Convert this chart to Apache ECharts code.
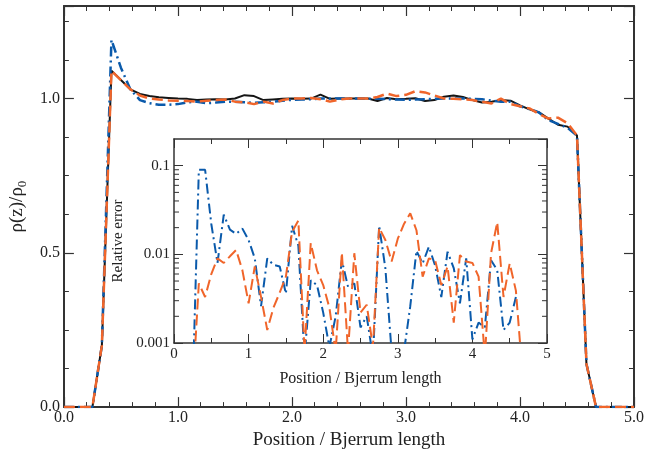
<!DOCTYPE html>
<html>
<head>
<meta charset="utf-8">
<script src="https://cdn.jsdelivr.net/npm/echarts@6/dist/echarts.min.js"></script>
<style>
html,body{margin:0;padding:0;background:#fff;}
#c{width:647px;height:455px;}
</style>
</head>
<body>
<div id="c"></div>
<script>
// Positions (Bjerrum lengths), grid step 1/12
const xs = [0,0.083,0.167,0.25,0.333,0.417,0.5,0.583,0.667,0.75,0.833,0.917,1.0,1.083,1.167,1.25,1.333,1.417,1.5,1.583,1.667,1.75,1.833,1.917,2.0,2.083,2.167,2.25,2.333,2.417,2.5,2.583,2.667,2.75,2.833,2.917,3.0,3.083,3.167,3.25,3.333,3.417,3.5,3.583,3.667,3.75,3.833,3.917,4.0,4.083,4.167,4.25,4.333,4.417,4.5,4.583,4.667,4.75,4.833,4.917,5.0];

const densBlack = [0,0,0,0,0.2,1.09,1.06,1.03,1.015,1.008,1.004,1.002,1.0,0.999,0.995,0.997,0.998,0.997,1.0,1.011,1.008,0.995,0.997,0.999,1.0,0.999,1.0,1.013,0.999,1.0,1.0,1.0,1.0,0.992,1.002,0.998,0.999,1.001,0.992,0.995,1.006,1.01,1.005,0.995,0.987,0.99,0.995,0.993,0.978,0.965,0.955,0.935,0.915,0.909,0.88,0.14,0,0,0,0,0];

const densBlue = [0,0,0,0,0.2,1.19,1.1,1.03,0.995,0.985,0.98,0.98,0.982,0.988,0.99,0.985,0.987,0.99,0.99,0.988,0.986,0.988,0.99,0.993,0.996,0.997,0.998,1.0,1.0,1.0,1.0,1.0,0.999,0.999,0.998,0.997,0.996,0.997,0.998,0.999,1.0,1.0,1.0,0.999,0.998,0.993,0.99,0.99,0.975,0.966,0.955,0.93,0.918,0.905,0.88,0.14,0,0,0,0,0];

const densOrange = [0,0,0,0,0.2,1.09,1.06,1.03,1.01,1.0,0.997,0.994,0.993,0.992,0.99,0.993,0.995,0.997,0.99,0.988,0.982,0.99,0.984,0.995,1.0,1.0,1.002,0.998,0.99,0.997,1.0,1.0,1.0,1.005,1.016,1.008,1.012,1.024,1.02,1.01,1.0,0.999,0.998,0.995,0.99,0.984,1.0,0.982,0.975,0.968,0.95,0.935,0.938,0.92,0.88,0.14,0,0,0,0,0];

// Inset: relative error (positions 0.25 .. 4.667)
const errXs = [0.25,0.333,0.417,0.5,0.583,0.667,0.75,0.833,0.917,1.0,1.083,1.167,1.25,1.333,1.417,1.5,1.583,1.667,1.75,1.833,1.917,2.0,2.083,2.167,2.25,2.333,2.417,2.5,2.583,2.667,2.75,2.833,2.917,3.0,3.083,3.167,3.25,3.333,3.417,3.5,3.583,3.667,3.75,3.833,3.917,4.0,4.083,4.167,4.25,4.333,4.417,4.5,4.583,4.667];

const errBlue = [0.0003,0.09,0.09,0.022,0.008,0.028,0.019,0.017,0.0195,0.0145,0.009,0.0026,0.009,0.0076,0.0073,0.0036,0.021,0.0125,0.0007,0.0051,0.0045,0.0022,0.0009,0.002,0.0086,0.0043,0.0047,0.0015,0.002,0.0007,0.021,0.007,0.0008,0.0005,0.0008,0.0026,0.011,0.0079,0.0122,0.0075,0.0033,0.0107,0.007,0.0028,0.009,0.0011,0.0017,0.0015,0.0086,0.0066,0.0014,0.0017,0.0033,null];

const errOrange = [0.0003,0.0047,0.0033,0.006,0.009,0.008,0.0095,0.0112,0.0066,0.0028,0.0073,0.0033,0.0014,0.0025,0.0037,0.0056,0.018,0.024,0.0008,0.0134,0.0066,0.0045,0.0025,0.0008,0.0105,0.0008,0.0103,0.0022,0.0027,0.0009,0.02,0.0145,0.0083,0.015,0.022,0.029,0.0187,0.0056,0.009,0.0086,0.0045,0.0073,0.0017,0.0098,0.0083,0.008,0.0056,0.0007,0.0103,0.023,0.0033,0.0079,0.0039,0.0005];

// log minor tick positions for inset
const logMinorTicks = [0.002,0.003,0.004,0.005,0.006,0.007,0.008,0.009,0.02,0.03,0.04,0.05,0.06,0.07,0.08,0.09];

const BLACK = '#151515', BLUE = '#0a5aab', ORANGE = '#f0652a', AX = '#333333';
const FONT = 'Liberation Serif';

function pairs(x, y){ return x.map((v,i)=>[v, y[i]]); }

const chart = echarts.init(document.getElementById('c'), null, {renderer:'canvas'});

function mainX(pos, show){
  return {
    type:'value', gridIndex:0, position:pos, min:0, max:5, interval:1,
    axisLine:{show:true, onZero:false, lineStyle:{color:AX, width:2}},
    axisTick:{show:true, inside:true, length:10, lineStyle:{color:AX, width:1.2}},
    minorTick:{show:true, splitNumber:5, length:5, lineStyle:{color:AX, width:1}},
    splitLine:{show:false},
    axisLabel:{show:show, margin:3, color:'#222', fontFamily:FONT, fontSize:16, formatter:v=>v.toFixed(1)},
    name: show ? 'Position / Bjerrum length' : '', nameLocation:'middle', nameGap:20,
    nameTextStyle:{color:'#222', fontFamily:FONT, fontSize:19}
  };
}
function mainY(pos, show){
  return {
    type:'value', gridIndex:0, position:pos, min:0, max:1.3, interval:0.5,
    axisLine:{show:true, onZero:false, lineStyle:{color:AX, width:2}},
    axisTick:{show:true, inside:true, length:10, lineStyle:{color:AX, width:1.2}},
    minorTick:{show:true, splitNumber:4, length:5, lineStyle:{color:AX, width:1}},
    splitLine:{show:false},
    axisLabel:{show:show, margin:4, color:'#222', fontFamily:FONT, fontSize:16, showMaxLabel:false, formatter:v=>v.toFixed(1)},
    name: show ? '{a|ρ(z)/ρ}{b|0}' : '', nameLocation:'middle', nameGap:27,
    nameTextStyle:{color:'#222', fontFamily:FONT, rich:{
      a:{fontSize:19, fontFamily:FONT, color:'#222'},
      b:{fontSize:13, fontFamily:FONT, color:'#222', padding:[10,0,0,0]}
    }}
  };
}
function insetX(pos, show){
  return {
    type:'value', gridIndex:1, position:pos, min:0, max:5, interval:1,
    axisLine:{show:true, onZero:false, lineStyle:{color:AX, width:1.5}},
    axisTick:{show:true, inside:true, length:9, lineStyle:{color:AX, width:1}},
    minorTick:{show:true, splitNumber:2, length:5, lineStyle:{color:AX, width:1}},
    splitLine:{show:false},
    axisLabel:{show:show, margin:4, color:'#222', fontFamily:FONT, fontSize:15},
    name: show ? 'Position / Bjerrum length' : '', nameLocation:'middle', nameGap:28,
    nameTextStyle:{color:'#222', fontFamily:FONT, fontSize:16}
  };
}
function insetY(pos, show){
  return {
    type:'log', logBase:10, gridIndex:1, position:pos, min:0.001, max:0.2,
    axisLine:{show:true, onZero:false, lineStyle:{color:AX, width:1.5}},
    axisTick:{show:true, inside:true, length:9, lineStyle:{color:AX, width:1}},
    minorTick:{show:false},
    splitLine:{show:false},
    axisLabel:{show:show, margin:4, color:'#222', fontFamily:FONT, fontSize:15, showMaxLabel:false,
      formatter:v=>String(+v.toPrecision(3))},
    name: show ? 'Relative error' : '', nameLocation:'middle', nameGap:42,
    nameTextStyle:{color:'#222', fontFamily:FONT, fontSize:15}
  };
}

const option = {
  animation:false,
  backgroundColor:'#fff',
  grid:[
    {left:61, right:11, top:6, bottom:45, containLabel:false},
    {left:174, right:100, top:139, bottom:112, containLabel:false, show:true, backgroundColor:'#fff', borderWidth:0}
  ],
  xAxis:[mainX('bottom',true), mainX('top',false), insetX('bottom',true), insetX('top',false)],
  yAxis:[mainY('left',true), mainY('right',false), insetY('left',true), insetY('right',false)],
  series:[
    {type:'line', xAxisIndex:0, yAxisIndex:0, data:pairs(xs,densBlack), symbol:'none', z:3,
      lineStyle:{color:BLACK, width:2}},
    {type:'line', xAxisIndex:0, yAxisIndex:0, data:pairs(xs,densBlue), symbol:'none', z:4,
      lineStyle:{color:BLUE, width:2.5, type:[10,4,2,4]}},
    {type:'line', xAxisIndex:0, yAxisIndex:0, data:pairs(xs,densOrange), symbol:'none', z:5,
      lineStyle:{color:ORANGE, width:2.5, type:[11,5]}},
    {type:'line', xAxisIndex:2, yAxisIndex:2, data:pairs(errXs,errBlue), symbol:'none', z:4, clip:true,
      lineStyle:{color:BLUE, width:2, type:[10,4,2,4]}},
    {type:'line', xAxisIndex:2, yAxisIndex:2, data:pairs(errXs,errOrange), symbol:'none', z:5, clip:true,
      lineStyle:{color:ORANGE, width:2, type:[11,5]}},
    {type:'custom', xAxisIndex:2, yAxisIndex:2, silent:true, clip:false, z:6,
      data:logMinorTicks.map(v=>[0,v]),
      renderItem:function(params, api){
        const v = api.value(1);
        const pL = api.coord([0, v]);
        const pR = api.coord([5, v]);
        return {type:'group', children:[
          {type:'line', shape:{x1:pL[0], y1:pL[1], x2:pL[0]+5, y2:pL[1]}, style:{stroke:AX, lineWidth:1}},
          {type:'line', shape:{x1:pR[0], y1:pR[1], x2:pR[0]-5, y2:pR[1]}, style:{stroke:AX, lineWidth:1}}
        ]};
      }
    }
  ]
};
chart.setOption(option);
</script>
</body>
</html>
